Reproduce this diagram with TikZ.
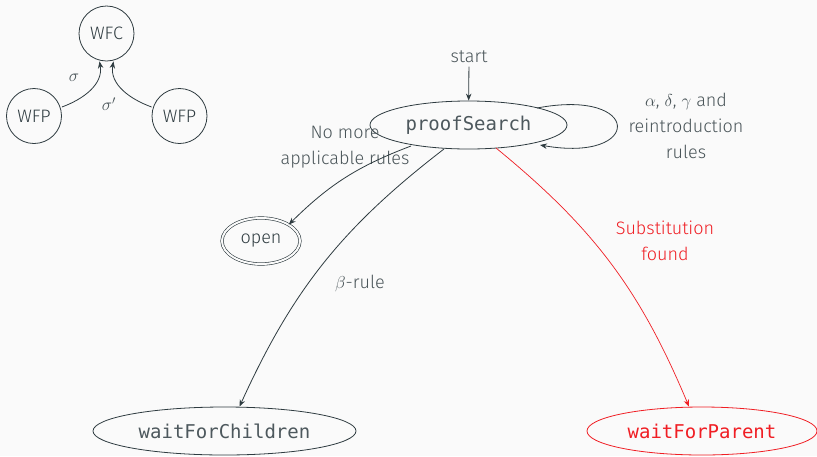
\documentclass[tikz,border=0pt]{standalone}
\usepackage{fontspec}
\setmainfont{Fira Sans}[UprightFont={* Light}, BoldFont={*}]
\setmonofont{DejaVu Sans Mono}
\usetikzlibrary{shapes.geometric,arrows.meta}
\definecolor{bgc}{HTML}{FAFAFA}
\definecolor{ink}{HTML}{2E3B40}
\definecolor{lbl}{HTML}{4A5559}
\definecolor{redc}{HTML}{F01E24}
\begin{document}
\begin{tikzpicture}[x=1pt,y=-1pt,
  every node/.style={font=\fontsize{18}{26}\selectfont, text=lbl},
  circ/.style={circle, draw=ink, line width=0.8pt, minimum size=55pt, inner sep=0pt, text=ink},
  stbox/.style={ellipse, draw=ink, line width=0.8pt, minimum width=197pt, minimum height=48pt, inner sep=0pt, text=ink!85!white, font=\ttfamily\fontsize{19}{22}\selectfont},
  arr/.style={draw=ink, line width=0.8pt, -{Stealth[length=7pt,width=5.5pt]}},
  lab/.style={align=center, text=lbl}]
\fill[bgc] (0,0) rectangle (817,456);
\useasboundingbox (0,0) rectangle (817,456);

% small automaton
\node[circ] (wfc) at (106.5,33.5) {WFC};
\node[circ] (wfp1) at (34,116) {WFP};
\node[circ] (wfp2) at (179.5,116) {WFP};
\draw[arr] (wfp1.east) ++(0,-9) coordinate (a1) (a1) to[out=20,in=-80] ([xshift=-7pt]wfc.south);
\draw[arr] (wfp2.west) ++(0,-9) coordinate (a2) (a2) to[out=160,in=-100] ([xshift=7pt]wfc.south);
\node (sig) at (74,78) {$\sigma$};
\node (sigp) at (109,104) {$\sigma'$};

% main automaton
\node[stbox] (ps) at (468.5,125) {proofSearch};
\node (start) at (469,57) {start};
\draw[arr] (start) -- (ps);

\coordinate (l1) at (537,108);
\coordinate (l2) at (540,145);
\draw[arr] (l1) .. controls (643,88) and (643,163) .. (l2);
\node[lab] (loopl) at (686,126) {$\alpha$, $\delta$, $\gamma$ and\\reintroduction\\rules};

\node[ellipse, draw=ink, line width=0.6pt, double=bgc, double distance=2pt, minimum width=78pt, minimum height=46pt, inner sep=0pt, text=ink] (open) at (261,241) {open};
\node[lab] (nomore) at (345,147) {No more\\applicable rules};
\coordinate (o1) at (411,146);
\draw[arr] (o1) to[bend right=12] (open.north east);

\node[stbox, minimum width=263pt] (wfch) at (224.5,431) {waitForChildren};
\node[stbox, minimum width=230pt, draw=redc, text=redc] (wfpa) at (702,431) {waitForParent};

\coordinate (b1) at (444,149);
\draw[arr] (b1) to[bend right=14] ([xshift=15pt]wfch.north);
\node (beta) at (360,283) {$\beta$-rule};

\coordinate (r1) at (496,148);
\draw[arr, draw=redc, line width=0.7pt] (r1) to[bend left=14] ([xshift=-13pt]wfpa.north);
\node[lab, text=redc] (subst) at (665,241) {Substitution\\found};
\end{tikzpicture}
\end{document}
